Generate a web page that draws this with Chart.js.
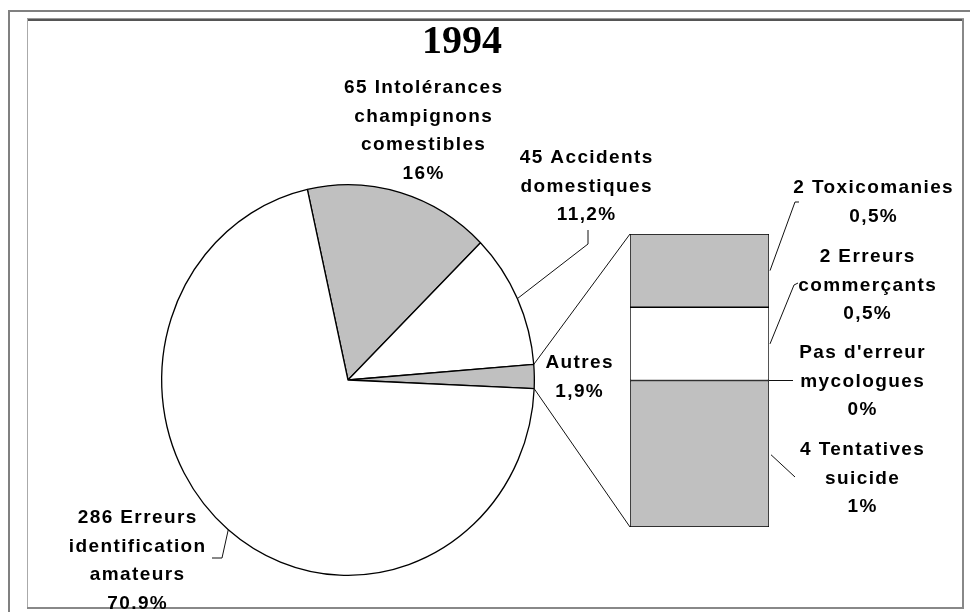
<!DOCTYPE html>
<html><head><meta charset="utf-8">
<script src="https://cdn.jsdelivr.net/npm/chart.js@4.4.1/dist/chart.umd.min.js"></script>
<style>
html,body{margin:0;padding:0;background:#fff;width:970px;height:612px;overflow:hidden;}
#wrap{position:relative;width:970px;height:612px;}
canvas{position:absolute;left:0;top:0;}
.f{position:absolute;}
</style></head><body>
<div id="wrap">
<div class="f" style="left:8px;top:10px;width:962px;height:2px;background:#808080"></div>
<div class="f" style="left:8px;top:10px;width:2px;height:602px;background:#808080"></div>
<div class="f" style="left:27px;top:18px;width:937px;height:1px;background:#999"></div>
<div class="f" style="left:27px;top:19px;width:937px;height:2px;background:#555"></div>
<div class="f" style="left:27px;top:19px;width:1px;height:590px;background:#aaa"></div>
<div class="f" style="left:962px;top:19px;width:2px;height:590px;background:#888"></div>
<div class="f" style="left:27px;top:607px;width:937px;height:2px;background:#888"></div>
<canvas id="pie" width="970" height="612"></canvas>
<canvas id="bar" width="970" height="612"></canvas>
</div>
<script>
// ---- data ----
const title = '1994';
const pieNames = ['Intolérances champignons comestibles', 'Accidents domestiques', 'Autres', 'Erreurs identification amateurs'];
const pieCounts = [65, 45, 8, 286];
const pieLabelLines = [
  ['65 Intolérances', 'champignons', 'comestibles', '16%'],
  ['45 Accidents', 'domestiques', '11,2%'],
  ['Autres', '1,9%'],
  ['286 Erreurs', 'identification', 'amateurs', '70.9%']
];
const barNames = ['Tentatives suicide', "Pas d'erreur mycologues", 'Erreurs commerçants', 'Toxicomanies'];
const barCounts = [4, 0, 2, 2];
const barLabelLines = [
  ['4 Tentatives', 'suicide', '1%'],
  ["Pas d'erreur", 'mycologues', '0%'],
  ['2 Erreurs', 'commerçants', '0,5%'],
  ['2 Toxicomanies', '0,5%']
];

// ---- styles / layout ----
const GRAY = '#c0c0c0', WHITE = '#ffffff', LINE = '#000000';
const pieColors = [GRAY, WHITE, GRAY, WHITE];
const barColors = [GRAY, GRAY, WHITE, GRAY];
const S = 196 / 187; // vertical stretch of the pie
const FONT = 'bold 19px "Liberation Sans", Arial, sans-serif';
const LH = 28.7;
const pieLabelPos = [[423, 93], [586, 163], [579, 368], [137, 523]];
const barLabelPos = [[862, 455], [862, 358], [867, 262], [873, 193]];

const pieChart = new Chart(document.getElementById('pie'), {
  type: 'pie',
  data: { labels: pieNames, datasets: [{ data: pieCounts, backgroundColor: pieColors, borderColor: LINE, borderWidth: 1.3 }] },
  options: {
    responsive: false, animation: false, rotation: -12.6,
    layout: { padding: { left: 161, right: 435, top: 193, bottom: 45 } },
    plugins: { legend: { display: false }, tooltip: { enabled: false } }
  },
  plugins: [{
    id: 'squash',
    beforeDatasetsDraw(c) { const a = c.getDatasetMeta(0).data[0]; c.ctx.save(); c.ctx.translate(a.x, a.y); c.ctx.scale(1, S); c.ctx.translate(-a.x, -a.y); },
    afterDatasetsDraw(c) { c.ctx.restore(); }
  }]
});

function drawLines(ctx, lines, cx, y0) {
  ctx.save();
  ctx.font = FONT;
  ctx.fillStyle = '#000';
  ctx.textAlign = 'center';
  ctx.textBaseline = 'alphabetic';
  try { ctx.letterSpacing = '1.4px'; } catch (e) {}
  lines.forEach((t, k) => ctx.fillText(t, cx + 0.7, y0 + k * LH));
  ctx.restore();
}
function poly(ctx, pts) {
  ctx.beginPath();
  pts.forEach((p, k) => k ? ctx.lineTo(p[0], p[1]) : ctx.moveTo(p[0], p[1]));
  ctx.stroke();
}

const annot = {
  id: 'annot',
  afterDraw(c) {
    const ctx = c.ctx;
    const pm = pieChart.getDatasetMeta(0);
    const arcPt = (i, frac) => {
      const a = pm.data[i];
      const ang = a.startAngle + (a.endAngle - a.startAngle) * frac;
      return [a.x + a.outerRadius * Math.cos(ang), a.y + a.outerRadius * Math.sin(ang) * S];
    };
    const bm = i => c.getDatasetMeta(i).data[0];
    ctx.save();
    ctx.strokeStyle = '#111'; ctx.lineWidth = 1;
    // connectors pie -> bar
    const top = bm(3), bot = bm(0);
    poly(ctx, [arcPt(2, 0), [top.x - top.width / 2, top.y]]);
    poly(ctx, [arcPt(2, 1), [bot.x - bot.width / 2, bot.base]]);
    // pie leaders
    poly(ctx, [arcPt(1, 0.5), [588, 244], [588, 230]]);
    poly(ctx, [arcPt(3, 0.5), [222, 558], [212, 558]]);
    // bar leaders
    const rx = i => bm(i).x + bm(i).width / 2;
    const my = i => (bm(i).y + bm(i).base) / 2;
    poly(ctx, [[rx(3) + 1, my(3)], [795, 202], [799, 202]]);
    poly(ctx, [[rx(2) + 1, my(2)], [794, 285], [798, 283]]);
    poly(ctx, [[rx(1), bm(1).y], [793, bm(1).y]]);
    poly(ctx, [[rx(0) + 2, my(0) + 1], [795, 477]]);
    ctx.restore();
    // title
    ctx.save();
    ctx.font = 'bold 40px "Liberation Serif", "Times New Roman", serif';
    ctx.fillStyle = '#000'; ctx.textAlign = 'center';
    ctx.fillText(title, 462, 53);
    ctx.restore();
    pieLabelLines.forEach((l, i) => drawLines(ctx, l, pieLabelPos[i][0], pieLabelPos[i][1]));
    barLabelLines.forEach((l, i) => drawLines(ctx, l, barLabelPos[i][0], barLabelPos[i][1]));
  }
};

const barChart = new Chart(document.getElementById('bar'), {
  type: 'bar',
  data: {
    labels: ['Autres'],
    datasets: barNames.map((n, i) => ({
      label: n, data: [barCounts[i]], backgroundColor: barColors[i],
      borderColor: LINE, borderWidth: 1, borderSkipped: false,
      barPercentage: 1, categoryPercentage: 1
    }))
  },
  options: {
    responsive: false, animation: false,
    layout: { padding: { left: 630, right: 201, top: 234, bottom: 85 } },
    scales: { x: { display: false, stacked: true }, y: { display: false, stacked: true, min: 0, max: 8 } },
    plugins: { legend: { display: false }, tooltip: { enabled: false } }
  },
  plugins: [annot]
});
</script>
</body></html>
